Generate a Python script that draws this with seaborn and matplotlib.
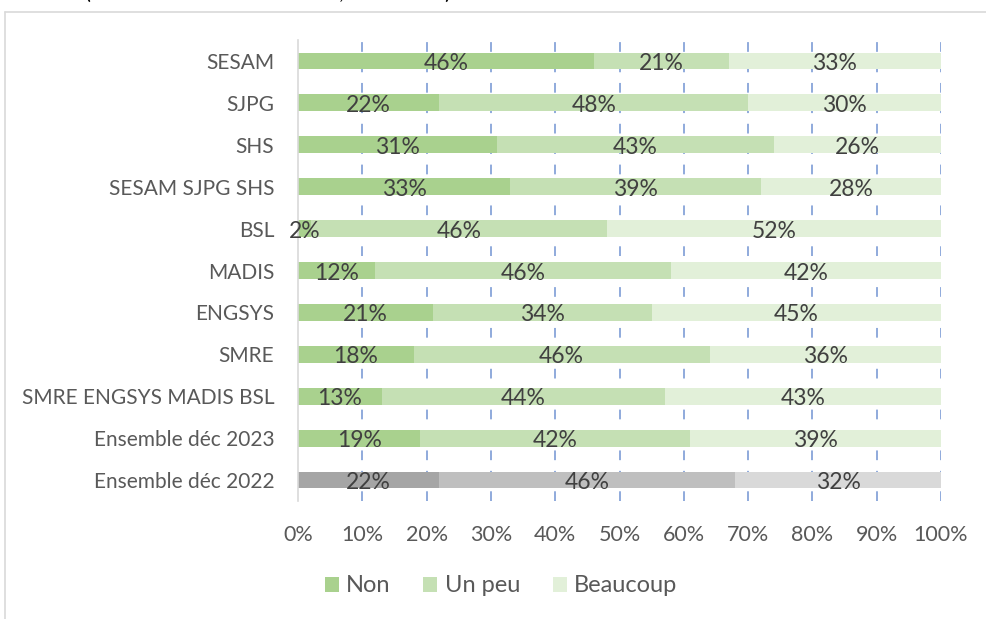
import matplotlib
matplotlib.use("Agg")
import matplotlib.pyplot as plt
from matplotlib.lines import Line2D
from matplotlib.patches import Patch
import numpy as np
import pandas as pd
import seaborn as sns

# Survey answers per group (percent of respondents)
groups = ["SESAM", "SJPG", "SHS", "SESAM SJPG SHS", "BSL", "MADIS", "ENGSYS",
          "SMRE", "SMRE ENGSYS MADIS BSL", "Ensemble déc 2023", "Ensemble déc 2022"]
non = [46, 22, 31, 33, 2, 12, 21, 18, 13, 19, 22]
un_peu = [21, 48, 43, 39, 46, 46, 34, 46, 44, 42, 46]
beaucoup = [33, 30, 26, 28, 52, 42, 45, 36, 43, 39, 32]
series = ["Non", "Un peu", "Beaucoup"]
xticks = [0, 10, 20, 30, 40, 50, 60, 70, 80, 90, 100]

green = ["#A9D18E", "#C5E0B4", "#E2F0D9"]
grey = ["#A5A5A5", "#BFBFBF", "#D9D9D9"]

df = pd.DataFrame({"groupe": groups, "Non": non, "Un peu": un_peu, "Beaucoup": beaucoup})
df["c1"] = df["Non"]
df["c2"] = df["Non"] + df["Un peu"]
df["c3"] = df["c2"] + df["Beaucoup"]

sns.set_theme(style="white")
plt.rcParams["font.family"] = ["Lato", "DejaVu Sans"]

fig = plt.figure(figsize=(9.87, 6.19), dpi=100)
ax = fig.add_axes([298 / 987, 1 - 501 / 619, (941 - 298) / 987, (501 - 40) / 619])

# Stacked bars: draw cumulative totals from the longest to the shortest
for col, ci in (("c3", 2), ("c2", 1), ("c1", 0)):
    sns.barplot(data=df, x=col, y="groupe", order=groups, orient="h",
                color=green[ci], width=0.4, saturation=1, ax=ax, zorder=2)
    cont = ax.containers[-1]
    cont.patches[-1].set_facecolor(grey[ci])
    for p in cont.patches:
        p.set_edgecolor("none")

# Segment labels at the middle of each segment
for i, g in enumerate(groups):
    starts = [0, df["c1"][i], df["c2"][i]]
    vals = [non[i], un_peu[i], beaucoup[i]]
    for s, v in zip(starts, vals):
        ax.text(s + v / 2, i + 0.06, f"{v}%", ha="center", va="center",
                fontsize=16.5, color="#404040", zorder=4)

ax.set_xlim(0, 100)
ax.set_ylim(len(groups) - 0.5, -0.5)
ax.set_xticks(xticks)
ax.set_xticklabels([f"{t}%" for t in xticks])
ax.set_xlabel("")
ax.set_ylabel("")
ax.tick_params(axis="both", length=0, colors="#595959")
ax.tick_params(axis="x", pad=17, labelsize=15.5)
ax.tick_params(axis="y", pad=17, labelsize=15)

ax.grid(False)
ax.xaxis.grid(True, color="#8FAADC", linewidth=1.4, linestyle=(0, (5, 5.5)), zorder=1)
ax.set_axisbelow(True)
ax.get_xgridlines()[0].set_visible(False)
for side in ("top", "right", "bottom"):
    ax.spines[side].set_visible(False)
ax.spines["left"].set_color("#D9D9D9")
ax.spines["left"].set_linewidth(1.2)
ax.spines["left"].set_zorder(3)

# Legend
handles = [Patch(facecolor=green[k], edgecolor="none") for k in range(3)]
fig.legend(handles, series, loc="center", bbox_to_anchor=(501 / 987, 1 - 586 / 619),
           ncol=3, frameon=False, fontsize=17, labelcolor="#595959",
           handlelength=0.6, handleheight=0.6, handletextpad=0.3, columnspacing=1.4)

# Chart frame
fig.add_artist(Line2D([5 / 987, 1.0], [1 - 12 / 619] * 2, color="#D9D9D9", lw=1.2,
                      transform=fig.transFigure))
fig.add_artist(Line2D([5 / 987] * 2, [0.0, 1 - 12 / 619], color="#D9D9D9", lw=1.2,
                      transform=fig.transFigure))

# Title line above the frame
for xp, s in ((88, "("), (341, ","), (447, ")")):
    fig.text(xp / 987, 1.0 + 1 / 619, s, ha="center", va="baseline", fontsize=16,
             color="#000000")

fig.savefig("out.png", dpi=100)
